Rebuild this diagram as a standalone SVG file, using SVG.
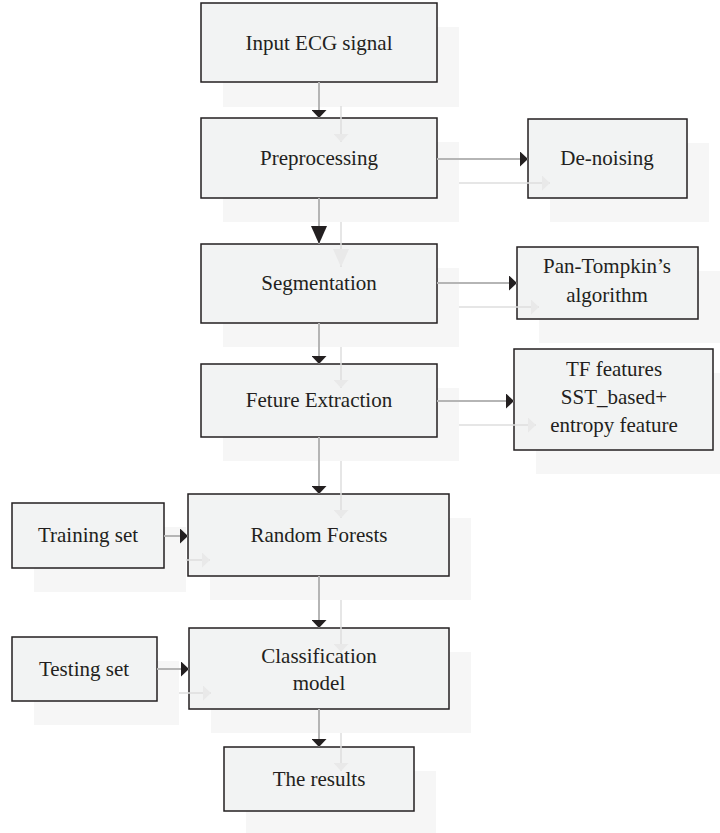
<svg xmlns="http://www.w3.org/2000/svg" width="720" height="833" viewBox="0 0 720 833">
<style>
.bg{fill:#ffffff}
.sh{fill:#f6f6f6;stroke:none}
.box{fill:#f2f3f3;stroke:#231f20;stroke-width:1.5}
.t{font-family:"Liberation Serif","Times New Roman",serif;font-size:21px;fill:#231f20;text-anchor:middle}
.c{stroke:#b5b5b5;stroke-width:2;fill:none}
.g{stroke:#dedede;stroke-width:1.5;fill:none}
</style>
<defs>
<marker id="ah" viewBox="0 0 8 15" refX="8" refY="7.5" markerWidth="8" markerHeight="15" markerUnits="userSpaceOnUse" orient="auto"><path d="M0,0 L8,7.5 L0,15 z" fill="#231f20"/></marker>
<marker id="ahB" viewBox="0 0 18 16" refX="18" refY="8" markerWidth="18" markerHeight="16" markerUnits="userSpaceOnUse" orient="auto"><path d="M0,0 L18,8 L0,16 z" fill="#231f20"/></marker>
<marker id="gh" viewBox="0 0 8 15" refX="8" refY="7.5" markerWidth="8" markerHeight="15" markerUnits="userSpaceOnUse" orient="auto"><path d="M0,0 L8,7.5 L0,15 z" fill="#e9e9e9"/></marker>
<marker id="ghB" viewBox="0 0 18 16" refX="18" refY="8" markerWidth="18" markerHeight="16" markerUnits="userSpaceOnUse" orient="auto"><path d="M0,0 L18,8 L0,16 z" fill="#e9e9e9"/></marker>
</defs>
<rect class="bg" x="0" y="0" width="720" height="833"/>
<g id="shadows">
<rect class="sh" x="223" y="27" width="236" height="80"/>
<rect class="sh" x="223" y="142" width="236" height="80"/>
<rect class="sh" x="223" y="268" width="236" height="79"/>
<rect class="sh" x="223" y="388" width="236" height="73"/>
<rect class="sh" x="210" y="518" width="261" height="82"/>
<rect class="sh" x="211" y="652" width="260" height="81"/>
<rect class="sh" x="246" y="771" width="190" height="64"/>
<rect class="sh" x="550" y="143" width="159" height="79"/>
<rect class="sh" x="539" y="271" width="181" height="72"/>
<rect class="sh" x="536" y="373" width="199" height="101"/>
<rect class="sh" x="34" y="527" width="152" height="65"/>
<rect class="sh" x="34" y="661" width="145" height="64"/>
</g>
<g id="input"><rect class="box" x="201" y="3" width="236" height="79"/><text class="t" x="319" y="50">Input ECG signal</text></g>
<g id="preprocessing"><rect class="box" x="201" y="118" width="236" height="80"/><text class="t" x="319" y="165">Preprocessing</text></g>
<g id="segmentation"><rect class="box" x="201" y="244" width="236" height="79"/><text class="t" x="319" y="290">Segmentation</text></g>
<g id="feature"><rect class="box" x="201" y="364" width="236" height="73"/><text class="t" x="319" y="407">Feture Extraction</text></g>
<g id="rf"><rect class="box" x="188" y="494" width="261" height="82"/><text class="t" x="319" y="542">Random Forests</text></g>
<g id="classification"><rect class="box" x="189" y="628" width="260" height="81"/><text class="t" x="319" y="663">Classification</text><text class="t" x="319" y="690">model</text></g>
<g id="results"><rect class="box" x="224" y="747" width="190" height="64"/><text class="t" x="319" y="786">The results</text></g>
<g id="denoising"><rect class="box" x="528" y="119" width="159" height="79"/><text class="t" x="607" y="165">De-noising</text></g>
<g id="pantompkin"><rect class="box" x="517" y="247" width="181" height="72"/><text class="t" x="607" y="273">Pan-Tompkin’s</text><text class="t" x="607" y="302">algorithm</text></g>
<g id="tf"><rect class="box" x="514" y="349" width="199" height="101"/><text class="t" x="614" y="376">TF features</text><text class="t" x="614" y="404">SST_based+</text><text class="t" x="614" y="432">entropy feature</text></g>
<g id="training"><rect class="box" x="12" y="503" width="152" height="65"/><text class="t" x="88" y="542">Training set</text></g>
<g id="testing"><rect class="box" x="12" y="637" width="145" height="64"/><text class="t" x="84" y="676">Testing set</text></g>
<g id="connectors">
<g id="ghost">
<line class="g" x1="341" y1="106" x2="341" y2="142" marker-end="url(#gh)"/>
<line class="g" x1="341" y1="222" x2="341" y2="267" marker-end="url(#ghB)"/>
<line class="g" x1="341" y1="347" x2="341" y2="388" marker-end="url(#gh)"/>
<line class="g" x1="341" y1="461" x2="341" y2="518" marker-end="url(#gh)"/>
<line class="g" x1="341" y1="600" x2="341" y2="652" marker-end="url(#gh)"/>
<line class="g" x1="341" y1="733" x2="341" y2="771" marker-end="url(#gh)"/>
<line class="g" x1="459" y1="183" x2="550" y2="183" marker-end="url(#gh)"/>
<line class="g" x1="459" y1="307" x2="539" y2="307" marker-end="url(#gh)"/>
<line class="g" x1="459" y1="425" x2="536" y2="425" marker-end="url(#gh)"/>
<line class="g" x1="186" y1="560" x2="210" y2="560" marker-end="url(#gh)"/>
<line class="g" x1="179" y1="693" x2="211" y2="693" marker-end="url(#gh)"/>
</g>
<line class="c" x1="319" y1="82" x2="319" y2="118" marker-end="url(#ah)"/>
<line class="c" x1="319" y1="198" x2="319" y2="244" marker-end="url(#ahB)"/>
<line class="c" x1="319" y1="323" x2="319" y2="364" marker-end="url(#ah)"/>
<line class="c" x1="319" y1="437" x2="319" y2="494" marker-end="url(#ah)"/>
<line class="c" x1="319" y1="576" x2="319" y2="628" marker-end="url(#ah)"/>
<line class="c" x1="319" y1="709" x2="319" y2="747" marker-end="url(#ah)"/>
<line class="c" x1="437" y1="159" x2="528" y2="159" marker-end="url(#ah)"/>
<line class="c" x1="437" y1="283" x2="517" y2="283" marker-end="url(#ah)"/>
<line class="c" x1="437" y1="401" x2="514" y2="401" marker-end="url(#ah)"/>
<line class="c" x1="164" y1="536" x2="188" y2="536" marker-end="url(#ah)"/>
<line class="c" x1="157" y1="669" x2="189" y2="669" marker-end="url(#ah)"/>
</g>
</svg>
